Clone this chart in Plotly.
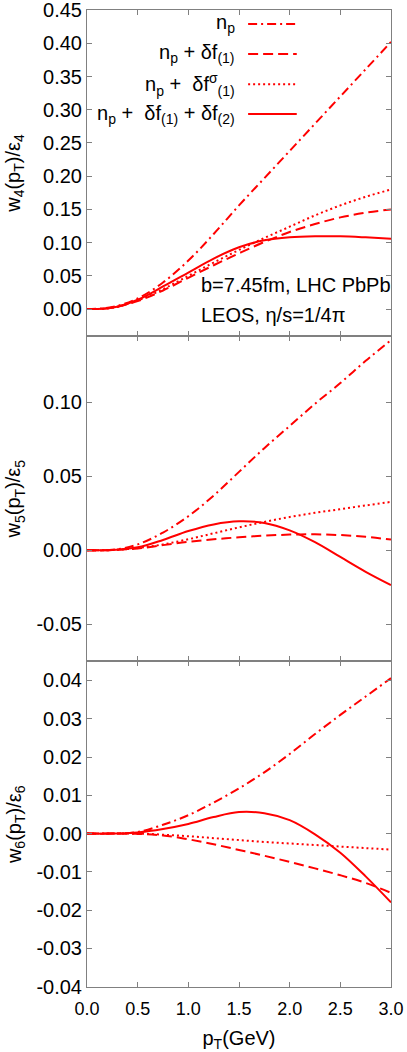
import plotly.graph_objects as go
from plotly.subplots import make_subplots

# data
pt = [0.0, 0.25, 0.5, 0.75, 1.0, 1.25, 1.5, 1.75, 2.0, 2.25, 2.5, 2.75, 3.0]

# w4/eps4
w4_np = [0.0, 0.003, 0.016, 0.040, 0.073, 0.113, 0.156, 0.197, 0.238, 0.279, 0.320, 0.361, 0.402]
w4_df1 = [0.0, 0.002, 0.012, 0.028, 0.047, 0.066, 0.084, 0.101, 0.116, 0.128, 0.138, 0.145, 0.150]
w4_dfs = [0.0, 0.002, 0.013, 0.030, 0.050, 0.070, 0.089, 0.107, 0.124, 0.141, 0.156, 0.169, 0.180]
w4_df2 = [0.0, 0.002, 0.014, 0.034, 0.055, 0.076, 0.093, 0.1035, 0.108, 0.1095, 0.1095, 0.108, 0.106]

# w5/eps5
w5_np = [0.0, 0.0003, 0.004, 0.012, 0.023, 0.037, 0.053, 0.069, 0.084, 0.099, 0.113, 0.128, 0.142]
w5_df1 = [0.0, 0.0002, 0.0012, 0.0035, 0.0058, 0.0074, 0.0088, 0.0099, 0.0106, 0.0108, 0.0103, 0.0091, 0.0073]
w5_dfs = [0.0, 0.0002, 0.0015, 0.004, 0.0075, 0.0115, 0.0155, 0.0192, 0.0225, 0.0253, 0.0278, 0.0303, 0.0327]
w5_df2 = [0.0, 0.0002, 0.002, 0.007, 0.013, 0.0175, 0.0196, 0.0185, 0.0135, 0.0055, -0.0045, -0.0145, -0.0235]

# w6/eps6
w6_np = [0.0, 0.0, 0.0004, 0.0023, 0.0048, 0.0081, 0.0118, 0.016, 0.0208, 0.026, 0.031, 0.0358, 0.0406]
w6_df1 = [0.0, 0.0, -0.0001, -0.0005, -0.0015, -0.0028, -0.0043, -0.0058, -0.0074, -0.0091, -0.0109, -0.0129, -0.0155]
w6_dfs = [0.0, 0.0, 0.0, -0.0003, -0.0007, -0.0012, -0.0017, -0.0022, -0.0026, -0.003, -0.0034, -0.0038, -0.0042]
w6_df2 = [0.0, 0.0, 0.0003, 0.0012, 0.0025, 0.0043, 0.0056, 0.0053, 0.0035, -0.0002, -0.005, -0.0112, -0.018]

# tick labels (plain hyphen minus, as in the original)
y4_ticks = [0.0, 0.05, 0.10, 0.15, 0.20, 0.25, 0.30, 0.35, 0.40, 0.45]
y4_text = ['0.00', '0.05', '0.10', '0.15', '0.20', '0.25', '0.30', '0.35', '0.40', '0.45']
y5_ticks = [-0.05, 0.0, 0.05, 0.10]
y5_text = ['-0.05', '0.00', '0.05', '0.10']
y6_ticks = [-0.04, -0.03, -0.02, -0.01, 0.0, 0.01, 0.02, 0.03, 0.04]
y6_text = ['-0.04', '-0.03', '-0.02', '-0.01', '0.00', '0.01', '0.02', '0.03', '0.04']

labels = ['n<sub>p</sub>',
          'n<sub>p</sub> + δf<sub>(1)</sub>',
          'n<sub>p</sub> +  δf<sup>σ</sup><sub>(1)</sub>',
          'n<sub>p</sub> +  δf<sub>(1)</sub> + δf<sub>(2)</sub>']
dashes = ['9px,4px,2px,4px', '10px,5px', '2px,3px', 'solid']
ytitles = ['w<sub>4</sub>(p<sub>T</sub>)/ε<sub>4</sub>',
           'w<sub>5</sub>(p<sub>T</sub>)/ε<sub>5</sub>',
           'w<sub>6</sub>(p<sub>T</sub>)/ε<sub>6</sub>']

red = '#ff0000'
frame = '#808080'
font = 'Liberation Sans'

panels = [[w4_np, w4_df1, w4_dfs, w4_df2],
          [w5_np, w5_df1, w5_dfs, w5_df2],
          [w6_np, w6_df1, w6_dfs, w6_df2]]
yticks = [(y4_ticks, y4_text), (y5_ticks, y5_text), (y6_ticks, y6_text)]

fig = make_subplots(rows=3, cols=1, shared_xaxes=True, vertical_spacing=0)

for r, series in enumerate(panels, start=1):
    for ys, d in zip(series, dashes):
        fig.add_trace(go.Scatter(x=pt, y=ys, mode='lines', line_shape='spline',
                                 line=dict(color=red, width=2, dash=d), showlegend=False),
                      row=r, col=1)

fig.update_xaxes(range=[0, 3], dtick=0.5, tickformat='.1f', ticks='inside', ticklen=5,
                 tickcolor=frame, showline=True, linecolor=frame, linewidth=1, mirror='ticks',
                 showgrid=False, zeroline=False, automargin=False, ticklabeloverflow='allow',
                 ticklabelstandoff=5,
                 tickfont=dict(family=font, size=18, color='black'))
fig.update_xaxes(title=dict(text='p<sub>T</sub>(GeV)', font=dict(family=font, size=20, color='black'),
                            standoff=14), row=3, col=1)

yranges = [[-0.04, 0.4501], [-0.075, 0.145], [-0.0401, 0.045]]
for r in range(1, 4):
    tv, tt = yticks[r - 1]
    fig.update_yaxes(range=yranges[r - 1], tickvals=tv, ticktext=tt,
                     ticks='inside', ticklen=5, tickcolor=frame, showline=True, linecolor=frame,
                     linewidth=1, mirror='ticks', showgrid=False, zeroline=False, automargin=False,
                     ticklabeloverflow='allow',
                     tickfont=dict(family=font, size=20, color='black'),
                     row=r, col=1)

# y titles as rotated annotations, centred on each panel
for r, t in enumerate(ytitles):
    fig.add_annotation(xref='paper', yref='paper', x=-0.237, y=1 - (r + 0.5) / 3, text=t,
                       textangle=-90, showarrow=False, xanchor='center', yanchor='middle',
                       font=dict(family=font, size=20, color='black'))

# gnuplot-style key: right-aligned text, sample line on the right
key_y = [0.9857, 0.955, 0.924, 0.8935]
for lab, d, yk in zip(labels, dashes, key_y):
    fig.add_annotation(xref='paper', yref='paper', x=0.493, y=yk, text=lab, showarrow=False,
                       xanchor='right', yanchor='middle', font=dict(family=font, size=20, color='black'))
    fig.add_shape(type='line', xref='paper', yref='paper', x0=0.53, x1=0.69, y0=yk, y1=yk,
                  line=dict(color=red, width=2, dash=d))

fig.add_annotation(xref='paper', yref='paper', x=0.368, y=0.7185, text='b=7.45fm, LHC PbPb',
                   showarrow=False, xanchor='left', yanchor='middle',
                   font=dict(family=font, size=20, color='black'))
fig.add_annotation(xref='paper', yref='paper', x=0.368, y=0.688, text='LEOS, η/s=1/4π',
                   showarrow=False, xanchor='left', yanchor='middle',
                   font=dict(family=font, size=20, color='black'))

fig.update_layout(width=407, height=1052, margin=dict(l=87, r=16, t=10, b=65, autoexpand=False),
                  plot_bgcolor='white', paper_bgcolor='white', showlegend=False,
                  font=dict(family=font, color='black'))

# drop the page's default body margin so the figure sits at the window corner
fig.write_html('out.html', config={'displayModeBar': False},
               post_script="document.body.style.margin='0';document.body.style.overflow='hidden';")
